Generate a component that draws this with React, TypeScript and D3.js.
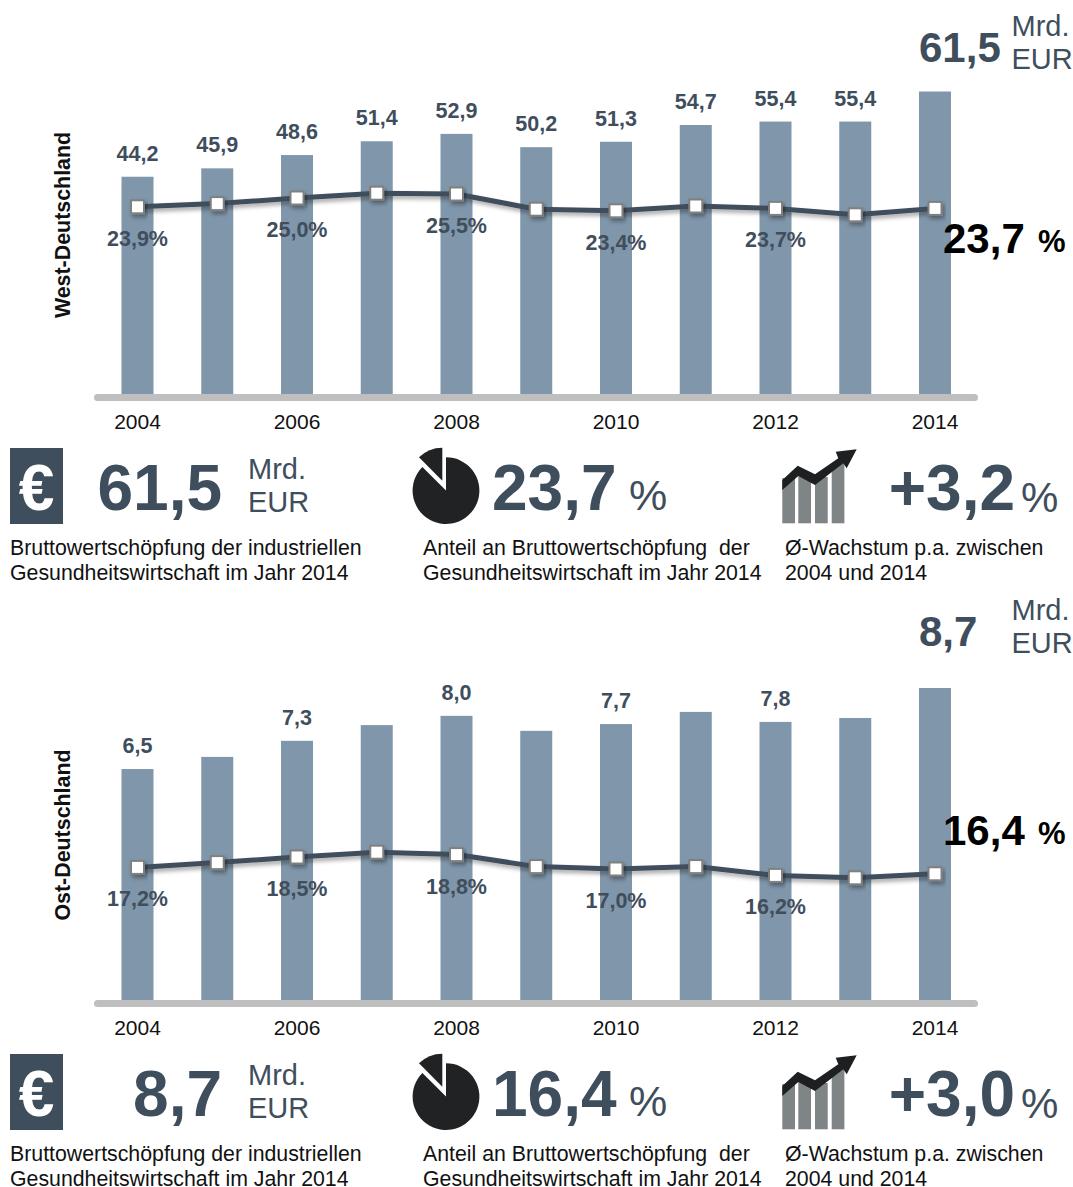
import React from 'react';
import * as d3 from 'd3';

const years = [2004, 2005, 2006, 2007, 2008, 2009, 2010, 2011, 2012, 2013, 2014];
const tickYears = [2004, 2006, 2008, 2010, 2012, 2014];

const westValues = [44.2, 45.9, 48.6, 51.4, 52.9, 50.2, 51.3, 54.7, 55.4, 55.4, 61.5];
const westShares = [23.9, 24.3, 25.0, 25.6, 25.5, 23.6, 23.4, 24.0, 23.7, 22.9, 23.7];
const westValueLabels = [2004, 2005, 2006, 2007, 2008, 2009, 2010, 2011, 2012, 2013];

const eastValues = [6.47, 6.81, 7.26, 7.7, 7.96, 7.54, 7.73, 8.07, 7.79, 7.9, 8.74];
const eastShares = [17.2, 17.8, 18.5, 19.1, 18.8, 17.3, 17.0, 17.3, 16.2, 15.9, 16.4];
const eastValueLabels = [2004, 2006, 2008, 2010, 2012];

const shareLabelYears = [2004, 2006, 2008, 2010, 2012];
const pieSlice = [0.875, 0.125];

const captions = {
  a: ['Bruttowertschöpfung der industriellen', 'Gesundheitswirtschaft im Jahr 2014'],
  b: ['Anteil an Bruttowertschöpfung  der', 'Gesundheitswirtschaft im Jahr 2014'],
  c: ['Ø-Wachstum p.a. zwischen', '2004 und 2014'],
};

const FONT = '"Liberation Sans", Arial, sans-serif';
const DARK = '#3f4e5d';
const BAR = '#8096aa';

const fmt = (v: number) => v.toFixed(1).replace('.', ',');

type PanelProps = {
  title: string;
  values: number[];
  shares: number[];
  valueLabels: number[];
  yTop: number;
  valueScale: d3.ScaleLinear<number, number>;
  shareScale: d3.ScaleLinear<number, number>;
  total: string;
  share: string;
  growth: string;
  axisY: number;
  titleY: number;
  calloutY: number;
  dy: number;
};

const x = d3.scalePoint<number>().domain(years).range([137.5, 935]);
const BW = 32;

function Icons({ dy }: { dy: number }) {
  const pie = d3.pie<number>().sort(null)(pieSlice);
  const arc = d3.arc<d3.PieArcDatum<number>>().innerRadius(0);
  const tops = [478, 472, 477, 463];
  return (
    <g transform={`translate(0,${dy})`}>
      <rect x={10} y={448} width={53} height={76} fill={DARK} />
      <text x={36.5} y={510} textAnchor="middle" fontSize={64} fontWeight="bold" fill="#fff">€</text>
      <path
        transform="translate(446,490.6)"
        d={arc({ ...pie[0], outerRadius: 33.4 } as any) as string}
        fill="#202224"
      />
      <path
        transform="translate(442.3,480.7)"
        d={arc({ ...pie[1], outerRadius: 33 } as any) as string}
        fill="#202224"
      />
      {[782.3, 798.3, 815, 831.7].map((bx, i) => (
        <rect key={bx} x={bx} y={tops[i]} width={12.7} height={523.3 - tops[i]} fill="#7f8487" />
      ))}
      <path
        d="M782.3,490 L782.3,480 L797.7,465.7 L815,474.3 L838.3,458.3 L835.7,451.7 L856.7,449.3 L846.7,468.3 L843.3,463.3 L815,485 L798.3,476 Z"
        fill="#1e1f20"
      />
    </g>
  );
}

function Panel(p: PanelProps) {
  const line = d3.line<number>().x((_, i) => x(years[i])!).y((d) => p.shareScale(d));
  const base = p.axisY;
  return (
    <g fontFamily={FONT}>
      <text
        transform={`translate(70,${p.titleY}) rotate(-90)`}
        textAnchor="middle"
        fontSize={21.4}
        fontWeight="bold"
        fill="#111"
      >
        {p.title}
      </text>
      {p.values.map((v, i) => (
        <rect key={i} x={x(years[i])! - BW / 2} y={p.valueScale(v)} width={BW} height={base - p.valueScale(v)} fill={BAR} />
      ))}
      <rect x={94} y={base} width={884} height={7} rx={3.5} fill="#bfbfbf" />
      {tickYears.map((t) => (
        <text key={t} x={x(t)} y={base + 35} textAnchor="middle" fontSize={21} fill="#111">{t}</text>
      ))}
      {p.valueLabels.map((t) => {
        const v = p.values[years.indexOf(t)];
        return (
          <text key={t} x={x(t)} y={p.valueScale(v) - 16} textAnchor="middle" fontSize={21.5} fontWeight="bold" fill={DARK}>
            {fmt(v)}
          </text>
        );
      })}
      <path d={line(p.shares) as string} fill="none" stroke={DARK} strokeWidth={5} filter="url(#shadow)" />
      {p.shares.map((s, i) => (
        <rect
          key={i}
          x={x(years[i])! - 6.5}
          y={p.shareScale(s) - 6.5}
          width={13}
          height={13}
          fill="#fff"
          stroke="#808080"
          strokeWidth={2}
          filter="url(#shadow)"
        />
      ))}
      {shareLabelYears.map((t) => {
        const s = p.shares[years.indexOf(t)];
        return (
          <text key={t} x={x(t)} y={p.shareScale(s) + 39} textAnchor="middle" fontSize={21.5} fontWeight="bold" fill={DARK}>
            {fmt(s)}%
          </text>
        );
      })}
      {/* top-right callouts */}
      <text x={919} y={p.yTop + 62} fontSize={42} fontWeight="bold" fill={DARK}>{p.total}</text>
      <text x={1011.5} y={p.yTop + 36} fontSize={29} fill={DARK}>Mrd.</text>
      <text x={1011.5} y={p.yTop + 69} fontSize={29} fill={DARK}>EUR</text>
      <text x={943} y={p.calloutY} fontSize={42} fontWeight="bold" fill="#000">{p.share}</text>
      <text x={1038} y={p.calloutY - 1} fontSize={31} fontWeight="bold" fill="#000">%</text>
      {/* KPI row */}
      <Icons dy={p.dy} />
      <g transform={`translate(0,${p.dy})`}>
        <text x={222} y={510} textAnchor="end" fontSize={64} fontWeight="bold" fill={DARK}>{p.total}</text>
        <text x={248} y={479} fontSize={29} fill={DARK}>Mrd.</text>
        <text x={248} y={512} fontSize={29} fill={DARK}>EUR</text>
        <text x={492} y={510} fontSize={64} fontWeight="bold" fill={DARK}>{p.share}</text>
        <text x={629} y={510} fontSize={43} fill={DARK}>%</text>
        <text x={1015} y={510} textAnchor="end" fontSize={64} fontWeight="bold" fill={DARK}>{p.growth}</text>
        <text x={1021} y={512} fontSize={42} fill={DARK}>%</text>
        {[
          [10, captions.a],
          [423, captions.b],
          [785, captions.c],
        ].map(([cx, lines]: any) =>
          lines.map((l: string, i: number) => (
            <text key={cx + '-' + i} x={cx} y={555 + i * 24.5} fontSize={21.3} fill="#111" style={{ whiteSpace: 'pre' }}>
              {l}
            </text>
          )),
        )}
      </g>
    </g>
  );
}

export default function App() {
  const westY = d3.scaleLinear().domain([0, 61.5]).range([394.5, 91.5]);
  const eastY = d3.scaleLinear().domain([0, 8.74]).range([1000, 688]);
  const westShareY = d3.scaleLinear().domain([0, 30]).range([398, 158]);
  const eastShareY = d3.scaleLinear().domain([0, 30]).range([1005, 765]);
  return (
    <svg width={1073} height={1187} style={{ position: 'absolute', left: 0, top: 0 }}>
      <defs>
        <filter id="shadow" x="-30%" y="-100%" width="160%" height="300%">
          <feDropShadow dx={2} dy={3} stdDeviation={2} floodColor="#000" floodOpacity={0.35} />
        </filter>
      </defs>
      <Panel
        title="West-Deutschland"
        values={westValues}
        shares={westShares}
        valueLabels={westValueLabels}
        yTop={0}
        valueScale={westY}
        shareScale={westShareY}
        total="61,5"
        share="23,7"
        growth="+3,2"
        axisY={394}
        titleY={225}
        calloutY={253}
        dy={0}
      />
      <Panel
        title="Ost-Deutschland"
        values={eastValues}
        shares={eastShares}
        valueLabels={eastValueLabels}
        yTop={584}
        valueScale={eastY}
        shareScale={eastShareY}
        total="8,7"
        share="16,4"
        growth="+3,0"
        axisY={1000}
        titleY={835}
        calloutY={845}
        dy={606}
      />
    </svg>
  );
}
